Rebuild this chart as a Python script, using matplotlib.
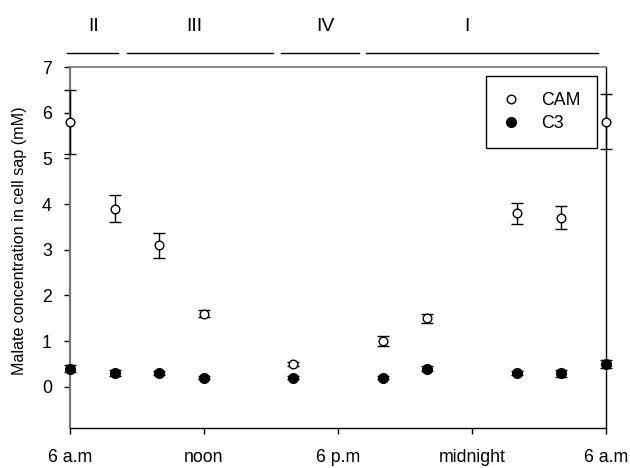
import matplotlib
matplotlib.use("Agg")
import matplotlib.pyplot as plt
import matplotlib.transforms as mtransforms
from matplotlib.lines import Line2D

plt.rcParams['font.family'] = ['Liberation Sans', 'DejaVu Sans']

hours = [6, 8, 10, 12, 16, 20, 22, 26, 28, 30]
cam = [5.8, 3.9, 3.1, 1.6, 0.5, 1.0, 1.5, 3.8, 3.7, 5.8]
cam_err = [0.7, 0.3, 0.27, 0.08, 0.05, 0.11, 0.1, 0.23, 0.25, 0.6]
c3 = [0.4, 0.3, 0.3, 0.2, 0.2, 0.2, 0.4, 0.3, 0.3, 0.5]
c3_err = [0.07, 0.06, 0.05, 0.03, 0.03, 0.03, 0.06, 0.04, 0.08, 0.08]

xtick_pos = [6, 12, 18, 24, 30]
xtick_labels = ['6 a.m', 'noon', '6 p.m', 'midnight', '6 a.m']
ytick_pos = [0, 1, 2, 3, 4, 5, 6, 7]

phase_names = ['II', 'III', 'IV', 'I']
phase_start = [5.86, 8.57, 15.47, 19.26]
phase_end = [8.16, 15.1, 18.94, 29.64]
phase_label_x = [7.04, 11.57, 17.42, 23.77]

fig = plt.figure(figsize=(6.3, 4.68), dpi=100)
ax = fig.add_axes([70/630, 40/468, 536/630, 361/468])

ax.errorbar(hours, cam, yerr=cam_err, fmt='o', mfc='white', mec='black',
            ms=6.2, mew=1.0, ecolor='black', elinewidth=1.0, capsize=4.3,
            capthick=1.0, zorder=3, clip_on=False)
ax.errorbar(hours, c3, yerr=c3_err, fmt='o', mfc='black', mec='black',
            ms=7, mew=1.0, ecolor='black', elinewidth=1.0, capsize=4.3,
            capthick=1.0, zorder=3, clip_on=False)

ax.set_xlim(6, 30)
ax.set_ylim(-0.9, 7)
ax.set_xticks(xtick_pos)
ax.set_xticklabels(xtick_labels)
ax.set_yticks(ytick_pos)
ax.tick_params(axis='both', direction='out', length=4, width=1, labelsize=12.8)
ax.tick_params(axis='x', pad=11)
ax.tick_params(axis='y', pad=9)

for side in ['left', 'top']:
    ax.spines[side].set_color('#777777')
    ax.spines[side].set_linewidth(1.6 if side == 'left' else 1.2)
for side in ['bottom', 'right']:
    ax.spines[side].set_color('black')
    ax.spines[side].set_linewidth(1.0)

ax.set_ylabel('Malate concentration in cell sap (mM)', fontsize=11.6)
ax.yaxis.set_label_coords(-0.08, 0.52)

trans = mtransforms.blended_transform_factory(ax.transData, ax.transAxes)
for name, s, e, lx in zip(phase_names, phase_start, phase_end, phase_label_x):
    ax.plot([s, e], [1.039, 1.039], color='black', lw=1.0, transform=trans, clip_on=False)
    ax.text(lx, 1.111, name, transform=trans, ha='center', va='center', fontsize=14)

handles = [
    Line2D([], [], ls='none', marker='o', mfc='white', mec='black', ms=6.2, mew=1.0),
    Line2D([], [], ls='none', marker='o', mfc='black', mec='black', ms=7, mew=1.0),
]
leg = ax.legend(handles, ['CAM', 'C3'], loc='upper right', bbox_to_anchor=(0.983, 0.975),
                borderaxespad=0, fancybox=False, edgecolor='black', framealpha=1,
                fontsize=12.8, handlelength=1.0, handletextpad=1.2, borderpad=0.9,
                labelspacing=0.35)
leg.get_frame().set_linewidth(1.0)

fig.savefig('out.png', dpi=100)
